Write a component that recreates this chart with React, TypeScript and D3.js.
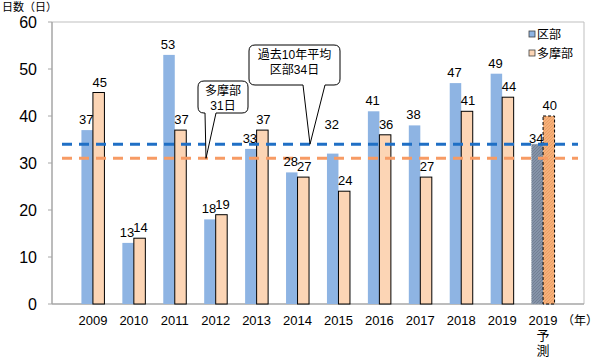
import React from 'react';
import * as d3 from 'd3';

const categories = ['2009', '2010', '2011', '2012', '2013', '2014', '2015', '2016', '2017', '2018', '2019', '2019予測'];
const kubuValues = [37, 13, 53, 18, 33, 28, 32, 41, 38, 47, 49, 34];
const tamaValues = [45, 14, 37, 19, 37, 27, 24, 36, 27, 41, 44, 40];
const yTicks = [0, 10, 20, 30, 40, 50, 60];
const kubuAverage = 34;
const tamaAverage = 31;
const seriesNames = ['区部', '多摩部'];

const FONT = '"Liberation Sans", "Noto Sans CJK JP", sans-serif';

export default function App() {
  const left = 52, right = 584, top = 22, bottom = 304;
  const step = (right - left) / 13;
  const x = d3.scalePoint<string>().domain(categories).range([left + step, right - step]);
  const y = d3.scaleLinear().domain([0, 60]).range([bottom, top]);
  const barW = 11.5;
  const last = categories.length - 1;

  // label nudges where the original moved labels off the line
  const labelNudge = (i: number) => (i === 6 ? -19 : i === 11 ? 5 : 0);

  const avgLine = (v: number, color: string) => (
    <line x1={62} x2={578} y1={y(v)} y2={y(v)} stroke={color} strokeWidth={3} strokeDasharray="10 7" />
  );

  const callout = (x0: number, y0: number, w: number, h: number, t1: number, t2: number, tipX: number, tipY: number, lines: string[]) => {
    const r = 6;
    const b = y0 + h;
    const d = [
      `M${x0 + r},${y0}`, `H${x0 + w - r}`, `Q${x0 + w},${y0} ${x0 + w},${y0 + r}`,
      `V${b - r}`, `Q${x0 + w},${b} ${x0 + w - r},${b}`,
      `H${t2}`, `L${tipX},${tipY}`, `L${t1},${b}`,
      `H${x0 + r}`, `Q${x0},${b} ${x0},${b - r}`, `V${y0 + r}`, `Q${x0},${y0} ${x0 + r},${y0}`, 'Z'
    ].join(' ');
    return (
      <g>
        <path d={d} fill="#fff" stroke="#000" strokeWidth={1} />
        {lines.map((s, i) => (
          <text key={i} x={x0 + w / 2} y={y0 + 14 + i * 15} textAnchor="middle" fontSize={12} fontFamily={FONT}>{s}</text>
        ))}
      </g>
    );
  };

  return (
    <svg width={600} height={360} style={{ position: 'absolute', left: 0, top: 0 }}>
      <defs>
        <pattern id="hatchBlue" width="3" height="3" patternUnits="userSpaceOnUse">
          <rect width="3" height="3" fill="#8593a8" />
          <path d="M0,3 L3,0" stroke="#6d7a8e" strokeWidth="0.8" />
        </pattern>
        <pattern id="hatchOrange" width="3" height="3" patternUnits="userSpaceOnUse">
          <rect width="3" height="3" fill="#f6b07a" />
          <path d="M0,3 L3,0" stroke="#e89a60" strokeWidth="0.8" />
        </pattern>
      </defs>
      <rect x={0} y={0} width={600} height={360} fill="#fff" />
      {/* plot frame */}
      <path d={`M${left},${top} H${right} V${bottom}`} fill="none" stroke="#bfbfbf" strokeWidth={1} />
      <line x1={left} x2={right} y1={bottom} y2={bottom} stroke="#a6a6a6" strokeWidth={1.5} />
      <line x1={left} x2={left} y1={top} y2={bottom} stroke="#a6a6a6" strokeWidth={1.5} />
      {yTicks.map(t => (
        <g key={t}>
          <line x1={left - 4} x2={left} y1={y(t)} y2={y(t)} stroke="#a6a6a6" />
          <text x={37} y={y(t) + 6} textAnchor="end" fontSize={16} fontFamily={FONT}>{t}</text>
        </g>
      ))}
      <text x={2} y={11} fontSize={11} fontFamily={FONT}>日数（日）</text>

      {/* bars */}
      {categories.map((c, i) => {
        const cx = x(c)!;
        const forecast = i === last;
        return (
          <g key={c}>
            <rect x={cx - barW} y={y(kubuValues[i])} width={barW} height={bottom - y(kubuValues[i])}
              fill={forecast ? 'url(#hatchBlue)' : '#8eb4e3'}
              stroke={forecast ? '#9aa3ad' : 'none'} strokeDasharray={forecast ? '1 1' : undefined} strokeWidth={1} />
            <rect x={cx} y={y(tamaValues[i])} width={barW} height={bottom - y(tamaValues[i])}
              fill={forecast ? 'url(#hatchOrange)' : '#fcd5b5'}
              stroke="#000" strokeDasharray={forecast ? '3 2' : undefined} strokeWidth={1} />
          </g>
        );
      })}

      {avgLine(kubuAverage, '#1f6fc5')}
      {avgLine(tamaAverage, '#f79b64')}

      {/* value labels */}
      {categories.map((c, i) => {
        const cx = x(c)!;
        return (
          <g key={'l' + c} fontSize={13} fontFamily={FONT}>
            <text x={cx - barW / 2 - 1} y={y(kubuValues[i]) - 6 + labelNudge(i)} textAnchor="middle">{kubuValues[i]}</text>
            <text x={cx + barW / 2 + 1} y={y(tamaValues[i]) - 6} textAnchor="middle">{tamaValues[i]}</text>
          </g>
        );
      })}

      {/* x labels */}
      {categories.map(c => {
        const cx = x(c)!;
        const year = c.slice(0, 4);
        const extra = c.slice(4).split('');
        return (
          <g key={'x' + c} fontSize={13} fontFamily={FONT}>
            <text x={cx} y={325} textAnchor="middle">{year}</text>
            {extra.map((ch, j) => (
              <text key={j} x={cx} y={340 + j * 15} textAnchor="middle">{ch}</text>
            ))}
          </g>
        );
      })}
      <text x={598} y={325} textAnchor="end" fontSize={12} fontFamily={FONT}>（年）</text>

      {callout(198, 81, 50, 32, 205, 216, 206, y(tamaAverage), ['多摩部', '31日'])}
      {callout(249, 45, 91, 40, 303, 325, 310, y(kubuAverage), ['過去10年平均', '区部34日'])}

      {/* legend */}
      {seriesNames.map((s, i) => (
        <g key={s} fontFamily={FONT}>
          <rect x={529} y={31 + i * 19} width={6} height={6} fill={i === 0 ? '#8eb4e3' : '#fcd5b5'} stroke="#404040" strokeWidth={0.8} />
          <text x={537} y={39 + i * 19} fontSize={12}>{s}</text>
        </g>
      ))}
    </svg>
  );
}
